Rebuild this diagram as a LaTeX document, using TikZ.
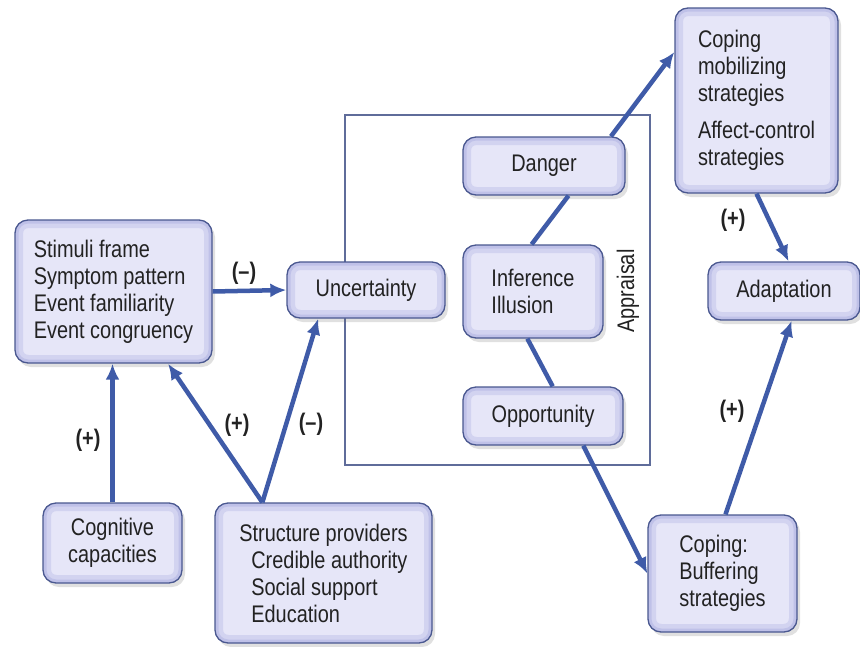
\documentclass[tikz,border=0pt]{standalone}
\usepackage{fontspec}
\setmainfont{Liberation Sans}[FakeStretch=0.83]
\usetikzlibrary{arrows.meta,shadows,calc}
\definecolor{boxfill}{HTML}{E6E6F8}
\definecolor{glow}{HTML}{AEB0E2}
\definecolor{boxline}{HTML}{4A5890}
\definecolor{arrowc}{HTML}{3F5BA8}
\definecolor{txt}{HTML}{222222}
\definecolor{framec}{HTML}{5F6C9A}
\begin{document}
\begin{tikzpicture}[x=1pt,y=-1pt,
  box/.style={draw=boxline, line width=1.3pt, fill=boxfill, rounded corners=13pt,
    inner sep=0pt, text=txt, font=\fontsize{24}{27}\selectfont,
    path picture={
      \draw[rounded corners=13pt, draw=glow, line width=16pt, opacity=0.35]
        (path picture bounding box.south west) rectangle (path picture bounding box.north east);
      \draw[rounded corners=13pt, draw=glow, line width=7pt, opacity=0.5]
        (path picture bounding box.south west) rectangle (path picture bounding box.north east);
    },
    drop shadow={shadow xshift=3pt, shadow yshift=-4pt, opacity=0.2, fill=black!60}},
  arr/.style={draw=arrowc, line width=4.5pt, -{Latex[length=16pt,width=14pt]}},
  link/.style={draw=arrowc, line width=4.5pt},
  lab/.style={font=\fontsize{24}{27}\selectfont\bfseries, text=txt},
  framebox/.style={draw=framec, line width=1.2pt, inner sep=0pt}]
\fill[white] (0,0) rectangle (860,646);
\useasboundingbox (0,0) rectangle (860,646);

\node[framebox, minimum width=305pt, minimum height=350pt] (appr) at (497.5,290) {};
\node[rotate=90, font=\fontsize{24}{27}\selectfont, text=txt] (apprlab) at (628,291) {Appraisal};

\node[box, minimum width=197pt, minimum height=143pt, align=left] (stim) at (113.5,291.5)
  {Stimuli frame\\Symptom pattern\\Event familiarity\\Event congruency};
\node[box, minimum width=158pt, minimum height=56pt] (unc) at (366,290) {Uncertainty};
\node[box, minimum width=139pt, minimum height=80pt, align=center] (cog) at (112.5,543)
  {Cognitive\\capacities};
\node[box, minimum width=217pt, minimum height=140pt, align=left] (struct) at (323.5,573)
  {Structure providers\\\hspace*{12pt}Credible authority\\\hspace*{12pt}Social support\\\hspace*{12pt}Education};
\node[box, minimum width=162pt, minimum height=58pt] (danger) at (544,166) {Danger};
\node[box, minimum width=140pt, minimum height=93pt, align=left] (infer) at (533,291.5)
  {Inference\\Illusion};
\node[box, minimum width=160pt, minimum height=58pt] (opp) at (543,416) {Opportunity};
\node[box, minimum width=163pt, minimum height=185pt, align=left] (cmob) at (756.5,100.5)
  {Coping\\mobilizing\\strategies\\[10pt]Affect-control\\strategies};
\node[box, minimum width=152pt, minimum height=58pt] (adapt) at (784,291) {Adaptation};
\node[box, minimum width=149pt, minimum height=117pt, align=left] (cbuf) at (722.5,573.5)
  {Coping:\\Buffering\\strategies};

% connectors
\draw[arr] (stim.east) -- (unc.west);
\draw[arr] (cog.north) -- (cog.north |- stim.south);
\draw[arr] ($(struct.north west)!0.22!(struct.north east)$) -- ($(stim.south west)!0.775!(stim.south east)$);
\draw[arr] ($(struct.north west)!0.22!(struct.north east)$) -- ($(unc.south west)!0.2!(unc.south east)$);
\draw[link] ($(danger.south west)!0.65!(danger.south east)$) -- ($(infer.north west)!0.49!(infer.north east)$);
\draw[link] ($(infer.south west)!0.46!(infer.south east)$) -- ($(opp.north west)!0.56!(opp.north east)$);
\draw[arr] ($(danger.north west)!0.91!(danger.north east)$) -- ($(cmob.north west)!0.24!(cmob.south west)$);
\draw[arr] ($(opp.south west)!0.75!(opp.south east)$) -- (cbuf.west);
\draw[arr] (cmob.south) -- ($(adapt.north west)!0.53!(adapt.north east)$);
\draw[arr] ($(cbuf.north west)!0.52!(cbuf.north east)$) -- ($(adapt.south west)!0.55!(adapt.south east)$);

% labels
\node[lab] (l1) at (244,273) {(–)};
\node[lab] (l2) at (88,440) {(+)};
\node[lab] (l3) at (237,425) {(+)};
\node[lab] (l4) at (311,424) {(–)};
\node[lab] (l5) at (733,220) {(+)};
\node[lab] (l6) at (732,411) {(+)};
\end{tikzpicture}
\end{document}
